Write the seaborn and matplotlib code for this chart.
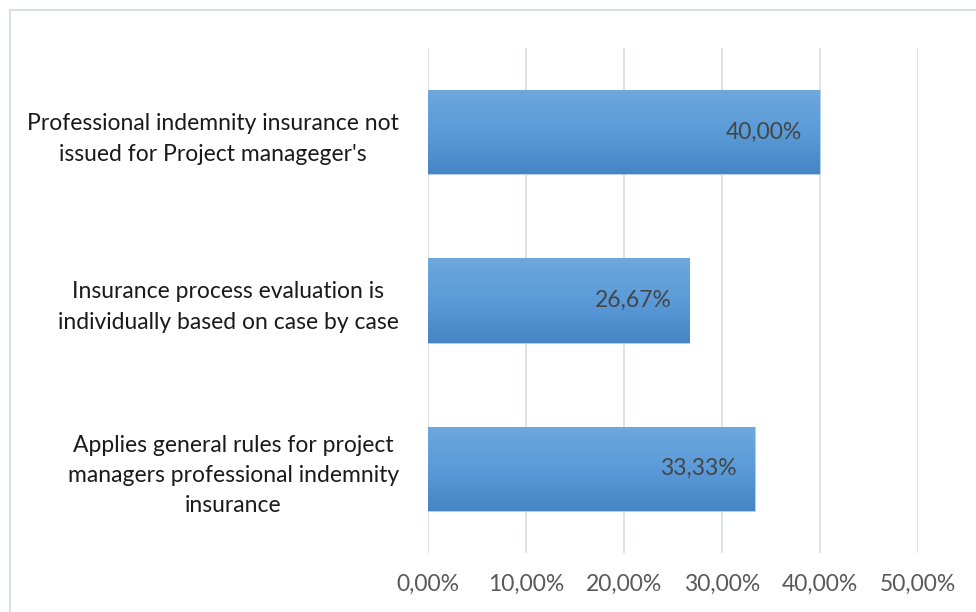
import matplotlib
matplotlib.use("Agg")
import matplotlib.pyplot as plt
import seaborn as sns
import numpy as np
import pandas as pd
from matplotlib.patches import Rectangle
from matplotlib.ticker import FuncFormatter

categories = [
    "Professional indemnity insurance not\nissued for Project manageger's",
    "Insurance process evaluation is\nindividually based on case by case",
    "Applies general rules for project\nmanagers professional indemnity\ninsurance",
]
values = [0.40, 0.2667, 0.3333]
value_labels = ["40,00%", "26,67%", "33,33%"]
x_ticks = [0.0, 0.1, 0.2, 0.3, 0.4, 0.5]

sns.set_theme(style="white")
plt.rcParams['font.family'] = ['Lato', 'DejaVu Sans']

fig = plt.figure(figsize=(9.76, 6.12), dpi=100)
ax = fig.add_axes([428/976, 1-553/612, 490/976, 505/612])

df = pd.DataFrame({"cat": categories, "val": values})
sns.barplot(data=df, y="cat", x="val", orient="h", color="#5b9bd5", width=0.5,
            ax=ax, saturation=1, edgecolor="#b7d0ea", linewidth=0.8, zorder=3)

# gradient overlay
cmap = matplotlib.colors.LinearSegmentedColormap.from_list(
    "g", ["#6ea8de", "#5a9bd8", "#4585c4"])
grad = np.linspace(0, 1, 256).reshape(-1, 1)
for p in ax.patches:
    x0, y0 = p.get_x(), p.get_y()
    w, h = p.get_width(), p.get_height()
    im = ax.imshow(grad, extent=[x0, x0 + w, y0 + h, y0], cmap=cmap,
                   aspect="auto", zorder=3.5, origin="upper")
    im.set_clip_path(p)

for i, (v, lab) in enumerate(zip(values, value_labels)):
    ax.text(v - 0.018, i, lab, ha="right", va="center", fontsize=16.5,
            color="#454545", zorder=5)

ax.set_xlim(0, 0.5)
ax.set_ylim(2.5, -0.5)
ax.set_xticks(x_ticks)
ax.xaxis.set_major_formatter(FuncFormatter(lambda x, _: f"{x*100:.2f}%".replace(".", ",")))
ax.grid(axis="x", color="#d9dde4", linewidth=1.2, zorder=0)
ax.grid(axis="y", visible=False)
for s in ax.spines.values():
    s.set_visible(False)
ax.tick_params(axis="x", length=0, pad=15, labelsize=16.5, labelcolor="#595959")
ax.tick_params(axis="y", length=0, pad=21, labelsize=16.5, labelcolor="#1a1a1a")
for t in ax.get_yticklabels():
    t.set_multialignment("center")
    t.set_linespacing(1.55)
ax.set_xlabel("")
ax.set_ylabel("")
ax.set_axisbelow(True)

# outer chart border (cropped at right and bottom)
fig.patches.append(Rectangle((10/976, -0.1), 1.2, 1 - 10/612 + 0.1,
                             transform=fig.transFigure, fill=False,
                             edgecolor="#d9dde4", linewidth=1.5))

fig.savefig("out.png", dpi=100)
